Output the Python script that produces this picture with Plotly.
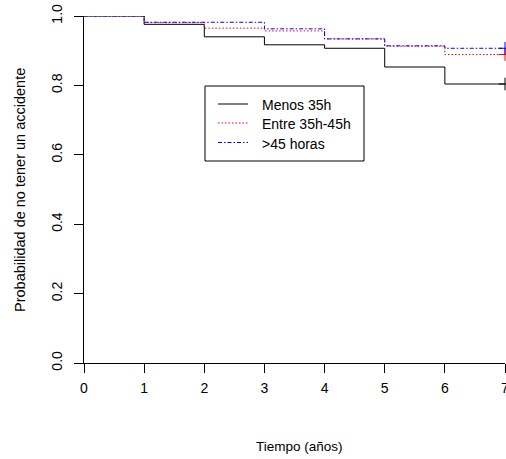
import plotly.graph_objects as go

# ---- data ----
times = [0, 1, 2, 3, 4, 5, 6, 7]
surv_menos35 = [1.0, 0.976, 0.940, 0.917, 0.907, 0.853, 0.804, 0.804]
surv_entre = [1.0, 0.981, 0.965, 0.957, 0.934, 0.913, 0.889, 0.889]
surv_mas45 = [1.0, 0.982, 0.982, 0.963, 0.934, 0.914, 0.907, 0.907]
series_names = ["Menos 35h", "Entre 35h-45h", ">45 horas"]
x_ticks = [0, 1, 2, 3, 4, 5, 6, 7]
y_ticks = [0.0, 0.2, 0.4, 0.6, 0.8, 1.0]
y_ticklabels = ["0.0", "0.2", "0.4", "0.6", "0.8", "1.0"]

colors = ["#000000", "#FF0000", "#0000FF"]
dashes = ["solid", "1.5px,2px", "4px,2px,1.5px,2px"]
FONT = "Liberation Sans, Arial, sans-serif"

W, H = 506, 459
L, R, T, B = 84, 1, 16, 96
pw, ph = W - L - R, H - T - B


def px_x(p):
    return (p - L) / pw


def px_y(p):
    return (H - B - p) / ph


fig = go.Figure()
all_surv = [surv_menos35, surv_entre, surv_mas45]
for name, s, c, d in zip(series_names, all_surv, colors, dashes):
    fig.add_trace(go.Scatter(x=times, y=s, mode="lines", line=dict(color=c, width=1, dash=d, shape="hv"),
                             name=name, showlegend=False, hoverinfo="skip"))
    # censor mark at end
    fig.add_trace(go.Scatter(x=[times[-1]], y=[s[-1]], mode="markers",
                             marker=dict(symbol="cross-thin", size=9, line=dict(color=c, width=1)),
                             showlegend=False, cliponaxis=False, hoverinfo="skip"))

fig.update_layout(
    width=W, height=H,
    margin=dict(l=L, r=R, t=T, b=B, pad=0, autoexpand=False),
    paper_bgcolor="white", plot_bgcolor="white",
    font=dict(family=FONT, color="black", size=13),
    showlegend=False,
)
fig.update_xaxes(range=[0, 7], tickvals=x_ticks, showline=True, linecolor="black", linewidth=1,
                 ticks="outside", ticklen=9, tickcolor="black", tickwidth=1, showgrid=False, zeroline=False,
                 tickfont=dict(size=14, family=FONT), ticklabelstandoff=3, ticklabeloverflow="allow",
                 automargin=False)
fig.update_yaxes(range=[0, 1], tickvals=y_ticks, ticktext=y_ticklabels, tickangle=-90, showline=True,
                 linecolor="black", linewidth=1, ticks="outside", ticklen=9, tickcolor="black", tickwidth=1,
                 showgrid=False, zeroline=False, tickfont=dict(size=14, family=FONT), ticklabelstandoff=6,
                 automargin=False)

# axis titles
fig.add_annotation(text="Tiempo (años)", xref="paper", yref="paper", x=px_x(299), y=px_y(446),
                   showarrow=False, xanchor="center", yanchor="middle", font=dict(size=13.5, family=FONT))
fig.add_annotation(text="Probabilidad de no tener un accidente", xref="paper", yref="paper",
                   x=px_x(20), y=px_y(190), textangle=-90, showarrow=False,
                   xanchor="center", yanchor="middle", font=dict(size=14.5, family=FONT))

# legend box
fig.add_shape(type="rect", xref="paper", yref="paper", x0=px_x(205), x1=px_x(364), y0=px_y(161), y1=px_y(86),
              line=dict(color="black", width=1), fillcolor="white", layer="above")
rows = [104, 123, 142.5]
for name, c, d, ry in zip(series_names, colors, dashes, rows):
    fig.add_shape(type="line", xref="paper", yref="paper", x0=px_x(218), x1=px_x(248), y0=px_y(ry), y1=px_y(ry),
                  line=dict(color=c, width=1, dash=d), layer="above")
    fig.add_annotation(text=name, xref="paper", yref="paper", x=px_x(260), y=px_y(ry + 1),
                       showarrow=False, xanchor="left", yanchor="middle", font=dict(size=14, family=FONT))

fig.write_html("out.html")
